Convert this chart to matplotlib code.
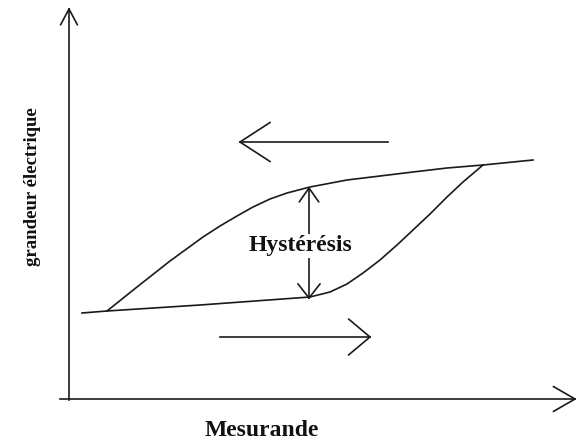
import matplotlib.pyplot as plt
import numpy as np

# diagram in pixel coordinates (origin top-left, y downward)
W, H = 576, 442

# branche montante (bas) : mesurande croissant
lower_x = [82, 107, 200, 310, 330, 347, 363, 380, 397, 413, 430, 447, 463, 483]
lower_y = [313, 311, 305, 297, 292, 284, 273, 260, 245, 230, 214, 197, 182, 165]

# branche descendante (haut) : mesurande decroissant
upper_x = [107, 137, 170, 203, 220, 237, 253, 270, 287, 310, 347, 380, 413, 447, 483, 533]
upper_y = [311, 287, 261, 237, 226, 216, 207, 199, 193, 187, 180, 176, 172, 168, 165, 160]

# ecart d'hysteresis
hyst_x = 309
hyst_top, hyst_bot = 188, 298

LINE = "#1a1a1a"
LW = 1.2


def open_head(ax, tip, direction, length=22, angle=35):
    # tete de fleche ouverte dessinee a la main (deux traits)
    d = np.asarray(direction, float)
    d = d / np.linalg.norm(d)
    for sgn in (-1, 1):
        a = np.deg2rad(sgn * angle)
        rot = np.array([[np.cos(a), -np.sin(a)], [np.sin(a), np.cos(a)]])
        back = rot @ (-d) * length
        ax.plot([tip[0], tip[0] + back[0]], [tip[1], tip[1] + back[1]],
                color=LINE, lw=LW, solid_capstyle="round")


fig = plt.figure(figsize=(W / 100, H / 100), dpi=100)
ax = fig.add_axes([0, 0, 1, 1])
ax.set_xlim(0, W)
ax.set_ylim(H, 0)
ax.axis("off")

# axes
ax.plot([69, 69], [400, 9], color=LINE, lw=LW)
open_head(ax, (69, 9), (0, -1), length=18, angle=28)
ax.plot([60, 575], [399, 399], color=LINE, lw=LW)
open_head(ax, (575, 399), (1, 0), length=25, angle=30)

# courbes
ax.plot(lower_x, lower_y, color=LINE, lw=LW, solid_joinstyle="round")
ax.plot(upper_x, upper_y, color=LINE, lw=LW, solid_joinstyle="round")

# fleches de sens de parcours
ax.plot([240, 388], [142, 142], color=LINE, lw=LW)
open_head(ax, (240, 142), (-1, 0), length=36, angle=33)
ax.plot([220, 370], [337, 337], color=LINE, lw=LW)
open_head(ax, (370, 337), (1, 0), length=28, angle=40)

# double fleche d'hysteresis
ax.plot([hyst_x, hyst_x], [hyst_top, hyst_bot], color=LINE, lw=LW)
open_head(ax, (hyst_x, hyst_top), (0, -1), length=17, angle=35)
open_head(ax, (hyst_x, hyst_bot), (0, 1), length=18, angle=38)

serif = ["Liberation Serif", "DejaVu Serif"]
ax.text(300, 246, "Hystérésis", family=serif, weight="bold", fontsize=17,
        ha="center", va="center", color="#111111",
        bbox=dict(facecolor="white", edgecolor="none", pad=1))
ax.text(262, 431, "Mesurande", family=serif, weight="bold", fontsize=17,
        ha="center", va="center", color="#111111")
ax.text(33, 187, "grandeur électrique", family=serif, weight="bold", fontsize=13.5,
        ha="center", va="center", rotation=90, color="#111111")

fig.savefig("out.png", dpi=100)
